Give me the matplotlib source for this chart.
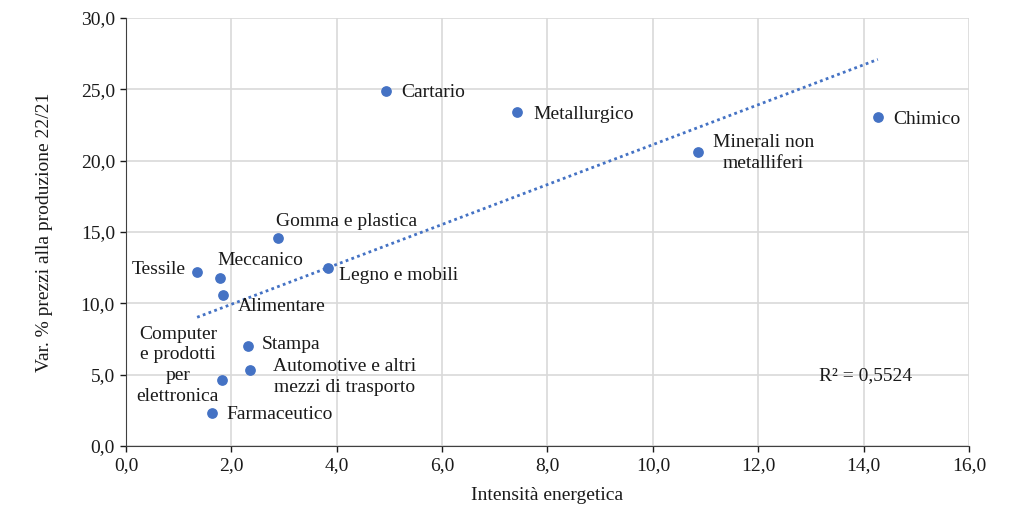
import matplotlib.pyplot as plt
import numpy as np
from matplotlib.ticker import FuncFormatter

plt.rcParams['font.family'] = ['Liberation Serif', 'DejaVu Serif']

# dati
settori = ['Tessile', 'Meccanico', 'Alimentare', 'Gomma e plastica', 'Legno e mobili',
           'Stampa', 'Automotive e altri\nmezzi di trasporto', 'Computer\ne prodotti\nper\nelettronica',
           'Farmaceutico', 'Cartario', 'Metallurgico', 'Minerali non\nmetalliferi', 'Chimico']
intensita = [1.35, 1.78, 1.84, 2.88, 3.83, 2.31, 2.35, 1.82, 1.63, 4.93, 7.42, 10.85, 14.27]
var_prezzi = [12.2, 11.8, 10.6, 14.6, 12.5, 7.0, 5.3, 4.6, 2.3, 24.9, 23.4, 20.6, 23.05]

# posizione etichette (offset in pixel, allineamento)
offsets = [(-11, 2, 'right'), (-2, 17, 'left'), (15, -12, 'left'), (-2, 16, 'left'),
           (11, -8, 'left'), (14, 2, 'left'), (95, -7, 'center'), (-44, 15, 'center'),
           (15, -1, 'left'), (16, -2, 'left'), (16, -2, 'left'), (66, -1, 'center'),
           (15, -2, 'left')]

colore = '#4472C4'
testo = '#1a1a1a'

fig = plt.figure(figsize=(10.12, 5.07), dpi=100)
ax = fig.add_axes([0.1245, 0.1203, 0.833, 0.8442])

ax.scatter(intensita, var_prezzi, s=45, color=colore, zorder=3)

# linea di tendenza lineare
x = np.array(intensita)
y = np.array(var_prezzi)
m, q = np.polyfit(x, y, 1)
xs = np.array([x.min(), x.max()])
ax.plot(xs, m * xs + q, linestyle=(0, (1, 1.2)), color=colore, linewidth=2, zorder=2)

for nome, xi, yi, (dx, dy, ha) in zip(settori, intensita, var_prezzi, offsets):
    ax.annotate(nome, (xi, yi), xytext=(dx * 0.72, dy * 0.72), textcoords='offset points',
                ha=ha, va='center', multialignment='center', fontsize=14, color=testo,
                linespacing=1.3)

ax.text(14.04, 4.95, 'R² = 0,5524', ha='center', va='center', fontsize=14, color=testo)

ax.set_xlim(0, 16)
ax.set_ylim(0, 30)
ax.set_xticks(np.arange(0, 17, 2))
ax.set_yticks(np.arange(0, 31, 5))
fmt = FuncFormatter(lambda v, p: f'{v:.1f}'.replace('.', ','))
ax.xaxis.set_major_formatter(fmt)
ax.yaxis.set_major_formatter(fmt)
ax.tick_params(labelsize=14, colors=testo, length=4, width=1, pad=4)
ax.grid(True, color='#d9d9d9', linewidth=1.2)
ax.set_axisbelow(True)
for s in ['top', 'right']:
    ax.spines[s].set_visible(False)
for s in ['left', 'bottom']:
    ax.spines[s].set_color('#404040')

ax.set_xlabel('Intensità energetica', fontsize=14, color=testo, labelpad=9)
ax.set_ylabel('Var. % prezzi alla produzione 22/21', fontsize=14, color=testo, labelpad=20)

fig.savefig('out.png', dpi=100)
